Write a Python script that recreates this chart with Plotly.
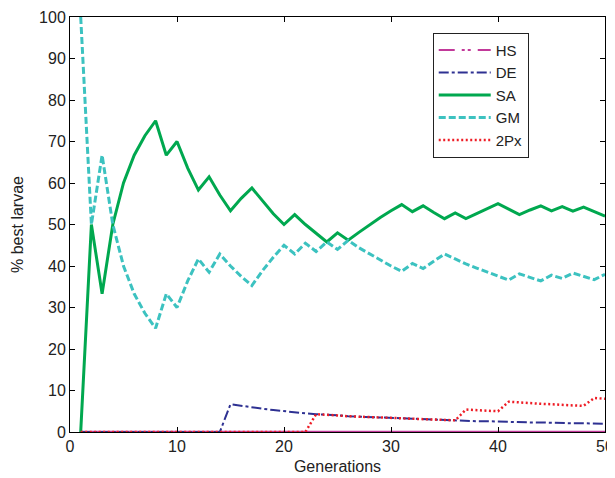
import plotly.graph_objects as go

generations = list(range(1, 51))

hs = [0.0] * 50

de = [0, 0, 0, 0, 0, 0, 0, 0, 0, 0,
      0, 0, 0, 0, 6.7, 6.3, 5.9, 5.6, 5.3, 5.0,
      4.8, 4.5, 4.3, 4.2, 4.0, 3.8, 3.7, 3.6, 3.4, 3.3,
      3.2, 3.1, 3.0, 2.9, 2.9, 2.8, 2.7, 2.6, 2.6, 2.5,
      2.4, 2.4, 2.3, 2.3, 2.2, 2.2, 2.1, 2.1, 2.0, 2.0]

sa = [0, 50.0, 33.3, 50.0, 60.0, 66.7, 71.4, 75.0, 66.7, 70.0,
      63.6, 58.3, 61.5, 57.1, 53.3, 56.3, 58.8, 55.6, 52.6, 50.0,
      52.4, 50.0, 47.8, 45.8, 48.0, 46.2, 48.1, 50.0, 51.7, 53.3,
      54.8, 53.1, 54.5, 52.9, 51.4, 52.8, 51.4, 52.6, 53.8, 55.0,
      53.7, 52.4, 53.5, 54.5, 53.3, 54.3, 53.2, 54.2, 53.1, 52.0]

gm = [100.0, 50.0, 66.7, 50.0, 40.0, 33.3, 28.6, 25.0, 33.3, 30.0,
      36.4, 41.7, 38.5, 42.9, 40.0, 37.5, 35.3, 38.9, 42.1, 45.0,
      42.9, 45.5, 43.5, 45.8, 44.0, 46.2, 44.4, 42.9, 41.4, 40.0,
      38.7, 40.6, 39.4, 41.2, 42.9, 41.7, 40.5, 39.5, 38.5, 37.5,
      36.6, 38.1, 37.2, 36.4, 37.8, 37.0, 38.3, 37.5, 36.7, 38.0]

px2 = [0, 0, 0, 0, 0, 0, 0, 0, 0, 0,
       0, 0, 0, 0, 0, 0, 0, 0, 0, 0,
       0, 0, 4.3, 4.2, 4.0, 3.8, 3.7, 3.6, 3.4, 3.3,
       3.2, 3.1, 3.0, 2.9, 2.9, 2.8, 5.4, 5.3, 5.1, 5.0,
       7.3, 7.1, 7.0, 6.8, 6.7, 6.5, 6.4, 6.3, 8.2, 8.0]

x_ticks = [0, 10, 20, 30, 40, 50]
y_ticks = [0, 10, 20, 30, 40, 50, 60, 70, 80, 90, 100]

HS_COLOR = "#C2399A"
TEXT = "#222222"

series = [
    ("HS", hs, HS_COLOR, "16px,7px,3px,3px,3px,7px", 2),
    ("DE", de, "#2E3192", "10px,3px,3px,3px", 2),
    ("SA", sa, "#00A84F", "solid", 3),
    ("GM", gm, "#3CC2C0", "7px,3px", 3),
    ("2Px", px2, "#EE1C25", "2px,2.5px", 2.5),
]

fig = go.Figure()
# HS sits on the zero line and appears as a continuous magenta line in the plot
fig.add_trace(go.Scatter(x=generations, y=hs, mode="lines", showlegend=False,
                         line=dict(color=HS_COLOR, width=2.5), hoverinfo="skip"))
for name, vals, color, dash, w in series:
    fig.add_trace(go.Scatter(x=generations, y=vals, mode="lines", name=name,
                             line=dict(color=color, dash=dash, width=w)))

axis_common = dict(showgrid=False, zeroline=False, showline=True, linecolor="black",
                   linewidth=1, mirror="ticks", ticks="inside", ticklen=5,
                   tickcolor="black", tickfont=dict(size=16, color=TEXT),
                   ticklabeloverflow="allow", automargin=False)

fig.update_xaxes(range=[0, 50], tickvals=x_ticks, ticktext=[str(v) for v in x_ticks],
                 title=dict(text="Generations", font=dict(size=16, color=TEXT), standoff=6),
                 **axis_common)
fig.update_yaxes(range=[0, 100], tickvals=y_ticks, ticktext=[str(v) for v in y_ticks],
                 title=dict(text="% best larvae", font=dict(size=16, color=TEXT), standoff=11),
                 **axis_common)

# the page body adds an 8px offset, so the figure is sized to fit the visible window
fig.update_layout(
    width=607, height=470,
    margin=dict(l=62, r=10, t=9, b=46),
    paper_bgcolor="white", plot_bgcolor="white",
    font=dict(family="Liberation Sans, Arial, sans-serif", color=TEXT),
    showlegend=True,
    legend=dict(x=0.678, y=0.962, xanchor="left", yanchor="top",
                bordercolor="#222", borderwidth=1, bgcolor="white",
                itemwidth=52, entrywidth=44, entrywidthmode="pixels",
                font=dict(size=15, color=TEXT)),
)

fig.write_html("out.html")
